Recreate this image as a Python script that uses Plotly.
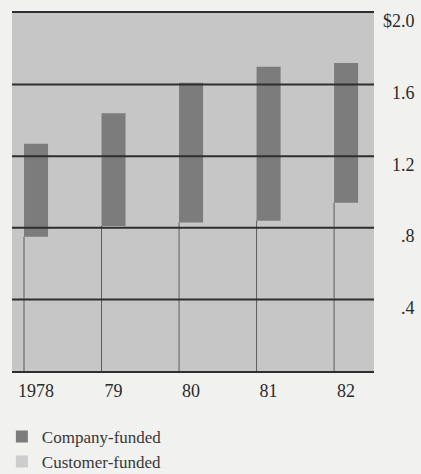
import plotly.graph_objects as go

years = ["1978", "79", "80", "81", "82"]
customer_funded = [0.75, 0.81, 0.83, 0.84, 0.94]
company_funded = [0.52, 0.63, 0.78, 0.86, 0.78]
y_ticks = [0.4, 0.8, 1.2, 1.6, 2.0]
y_tick_labels = [".4", ".8", "1.2", "1.6", "$2.0"]

BG = "#c6c6c6"
DARK_BAR = "#7c7c7c"
LINE = "#2e2e2e"
BAR_W = 0.31

pos = list(range(len(years)))

# right-align the y labels with figure spaces (digit-width)
longest = max(len(t) for t in y_tick_labels)
y_text = ["\u2007" * (longest - len(t)) + t for t in y_tick_labels]

fig = go.Figure()

# customer-funded (light) wide bars
fig.add_trace(go.Bar(
    x=pos, y=customer_funded, width=1.0, offset=-BAR_W / 2,
    marker=dict(color=BG, line=dict(width=0)),
    name="Customer-funded", showlegend=False, hoverinfo="skip",
))

# thin divider lines at the left edge of each customer bar
vx, vy = [], []
for i, c in zip(pos, customer_funded):
    vx += [i - BAR_W / 2, i - BAR_W / 2, None]
    vy += [0, c, None]
fig.add_trace(go.Scatter(x=vx, y=vy, mode="lines",
                         line=dict(color="#5e5e5e", width=1),
                         showlegend=False, hoverinfo="skip"))

# company-funded dark bars on top
fig.add_trace(go.Bar(
    x=pos, y=company_funded, base=customer_funded, width=BAR_W,
    marker=dict(color=DARK_BAR, line=dict(width=0)),
    name="Company-funded",
))
fig.add_trace(go.Bar(
    x=[None], y=[None], marker=dict(color="#cdcdcd", line=dict(width=0)),
    name="Customer-funded",
))

# horizontal rules drawn above the bars
for v in y_ticks[:-1]:
    fig.add_shape(type="line", xref="x domain", x0=0, x1=1, yref="y",
                  y0=v, y1=v, layer="above",
                  line=dict(color=LINE, width=2))

fig.update_layout(
    width=421, height=474,
    margin=dict(l=12, r=47, t=13, b=103, autoexpand=False),
    paper_bgcolor="#f1f1ef",
    plot_bgcolor=BG,
    barmode="overlay",
    font=dict(family="Liberation Serif", size=18, color="#2a2a2a"),
    showlegend=True,
    legend=dict(x=-0.028, xanchor="left", y=-0.134, yanchor="top",
                orientation="v", bgcolor="rgba(0,0,0,0)",
                font=dict(family="Liberation Serif", size=17, color="#383838"),
                tracegroupgap=0, itemwidth=30),
    xaxis=dict(
        range=[-0.31, 4.36],
        tickmode="array", tickvals=pos, ticktext=years,
        showgrid=False, zeroline=False,
        showline=True, mirror=True, linecolor=LINE, linewidth=2,
        ticks="", tickfont=dict(size=18),
        ticklabelstandoff=2,
    ),
    yaxis=dict(
        range=[0, 2.0],
        tickmode="array", tickvals=y_ticks, ticktext=y_text,
        showgrid=False, zeroline=False, showline=False, ticks="",
        side="right",
        tickfont=dict(size=18),
        ticklabelstandoff=8,
        ticklabelshift=8,
    ),
)

fig.write_html(
    "out.html",
    config={"displayModeBar": False},
    post_script="document.body.style.margin='0';document.body.style.overflow='hidden';",
)
